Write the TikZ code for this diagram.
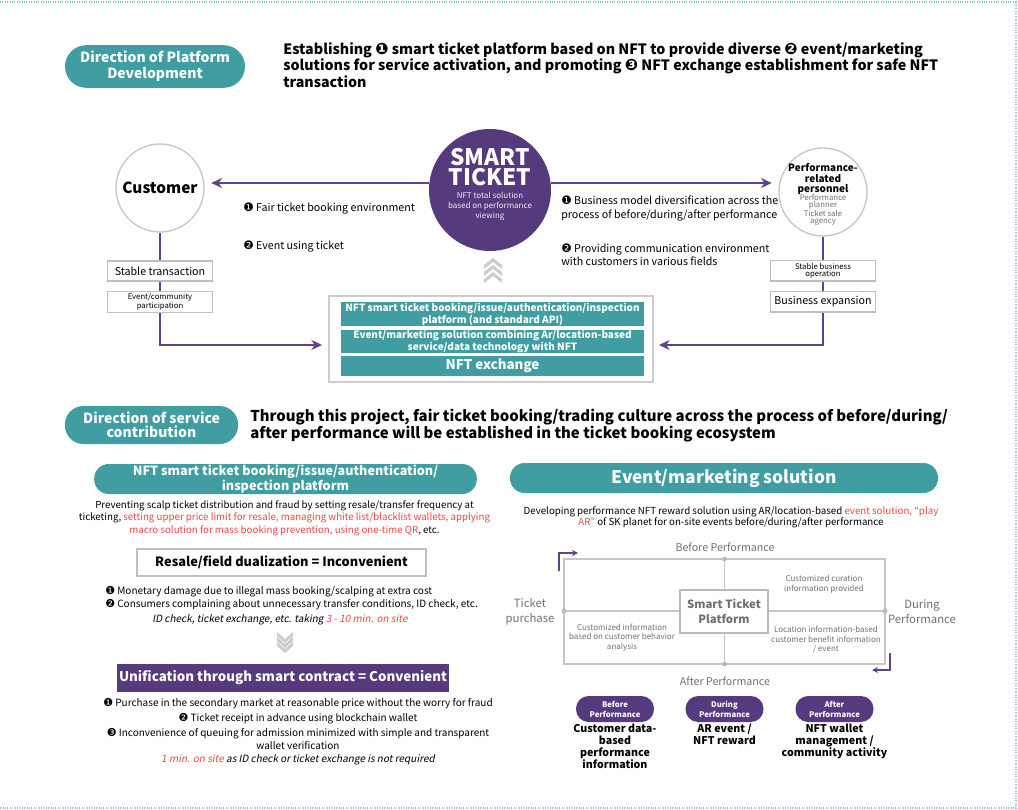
\documentclass[tikz,border=0pt]{standalone}
\usepackage{fontspec}
\setmainfont{Noto Sans CJK KR}[AutoFakeSlant=0.2]
\newfontfamily\dingf{DejaVu Sans}
\usepackage{tikz}
\usetikzlibrary{arrows.meta,positioning}
\definecolor{tealc}{HTML}{409EA3}
\definecolor{purpc}{HTML}{553A7E}
\definecolor{arrc}{HTML}{5E4390}
\definecolor{redc}{HTML}{F04545}
\definecolor{grayc}{HTML}{707070}
\newcommand{\fsz}[2]{\fontsize{#1}{#2}\selectfont}
\newcommand{\cn}[1]{{\dingf\scalebox{1.1}{#1}}}

\begin{document}
\begin{tikzpicture}[x=0.75pt,y=-0.75pt,
		every node/.style={inner sep=0pt},
		tealpill/.style={fill=tealc,text=white,font=\bfseries,align=center},
		purppill/.style={fill=purpc,text=white,align=center},
		gbox/.style={draw=gray!50,line width=1pt,fill=white,align=center},
		gcirc/.style={circle,draw=gray!45,line width=1pt,fill=white},
		pline/.style={draw=arrc,line width=1.1pt},
		arr/.style={pline,-{Stealth[length=8pt,width=7.5pt]}},
		sarr/.style={draw=arrc,line width=0.8pt,-{Stealth[length=4.5pt,width=4.5pt]}},
		gtxt/.style={text=grayc,align=center}]
	\useasboundingbox (0,0) rectangle (1018,810);
	\draw[tealc!60,densely dotted,line width=0.8pt] (0,2) -- (1016,2) -- (1016,808) -- (0,808);

	\node[tealpill,minimum width=135pt,minimum height=32pt,rounded corners=16pt,font=\bfseries\fsz{10.5}{12}] (hp1) at (155,66.5) {Direction of Platform\\Development};
	\node[anchor=west,align=left,font=\bfseries\fsz{10.7}{11.25}] (ht1) at (283,65) {Establishing \cn{❶} smart ticket platform based on NFT to provide diverse \cn{❷} event/marketing\\solutions for service activation, and promoting \cn{❸} NFT exchange establishment for safe NFT\\transaction};

	\coordinate (ay) at (0,183);
	\node[circle,fill=purpc,minimum size=91.5pt] (st) at (490,190) {};
	\node[text=white,align=center,font=\bfseries\fsz{17}{15.5}] (stt) at (490,167) {SMART\\TICKET};
	\node[text=white!90!purpc,align=center,font=\fsz{6}{7.5}] (sts) at (490,206) {NFT total solution\\based on performance\\viewing};

	\node[gcirc,minimum size=66pt,font=\bfseries\fsz{11.5}{12}] (cu) at (160,188) {Customer};
	\node[gcirc,minimum size=66pt] (pp) at (823,192) {};
	\node[align=center,font=\bfseries\fsz{7.5}{7.6}] (ppt) at (823,179) {Performance-\\related\\personnel};
	\node[gtxt,font=\fsz{5.8}{5.3}] (pps) at (823,210) {Performance\\planner\\Ticket sale\\agency};

	\draw[arr,shorten >=5pt] (st.west |- ay) -- (cu.east |- ay);
	\draw[arr,shorten >=5pt] (st.east |- ay) -- (pp.west |- ay);

	\node[anchor=west,font=\fsz{8}{9}] (l1) at (243,209) {\cn{❶} Fair ticket booking environment};
	\node[anchor=west,font=\fsz{8}{9}] (l2) at (243,247) {\cn{❷} Event using ticket};
	\node[anchor=west,align=left,font=\fsz{8}{9.75}] (r1) at (561,208.5) {\cn{❶} Business model diversification across the\\process of before/during/after performance};
	\node[anchor=west,align=left,font=\fsz{8}{9.75}] (r2) at (561,254.5) {\cn{❷} Providing communication environment\\with customers in various fields};

	\node[gbox,minimum width=79pt,minimum height=15pt,font=\fsz{8}{9}] (cu1) at (160,271) {Stable transaction};
	\node[gbox,minimum width=79pt,minimum height=15.5pt,font=\fsz{5.8}{5.5}] (cu2) at (160,302) {Event/community\\participation};
	\node[gbox,minimum width=79pt,minimum height=15.5pt,font=\fsz{5.8}{5.5}] (pp1) at (823,270.5) {Stable business\\operation};
	\node[gbox,minimum width=79pt,minimum height=15.5pt,font=\fsz{8}{9}] (pp2) at (823,301.5) {Business expansion};

	\node[draw=gray!40,line width=1pt,minimum width=243pt,minimum height=64.5pt] (pf) at (491,339) {};
	\node[tealpill,minimum width=227pt,minimum height=18pt,font=\bfseries\fsz{7.5}{7.5}] (pf1) at (492.5,314) {NFT smart ticket booking/issue/authentication/inspection\\platform (and standard API)};
	\node[tealpill,minimum width=227pt,minimum height=17.25pt,font=\bfseries\fsz{7.5}{7.5}] (pf2) at (492.5,341.5) {Event/marketing solution combining Ar/location-based\\service/data technology with NFT};
	\node[tealpill,minimum width=227pt,minimum height=15pt,font=\bfseries\fsz{10}{10}] (pf3) at (492.5,366) {NFT exchange};

	\coordinate (pl) at (322,345);
	\coordinate (pr) at (659,345);
	\draw[pline] (cu) -- (cu1);
	\draw[pline] (cu1) -- (cu2);
	\draw[arr] (cu2.south) |- (pl);
	\draw[pline] (pp) -- (pp1);
	\draw[pline] (pp1) -- (pp2);
	\draw[arr] (pp2.south) |- (pr);

	\foreach \y in {258,265,272}
		\fill[gray!40] (484,\y+7) -- (493,\y) -- (502,\y+7) -- (502,\y+11) -- (493,\y+4) -- (484,\y+11) -- cycle;

	\node[tealpill,minimum width=130pt,minimum height=28.5pt,rounded corners=14pt,font=\bfseries\fsz{10.5}{10.5}] (hp2) at (151.5,425) {Direction of service\\contribution};
	\node[anchor=west,align=left,font=\bfseries\fsz{11.2}{10.5}] (ht2) at (250,425.5) {Through this project, fair ticket booking/trading culture across the process of before/during/\\after performance will be established in the ticket booking ecosystem};

	\node[tealpill,minimum width=287pt,minimum height=22.5pt,rounded corners=11pt,font=\bfseries\fsz{9.5}{9}] (np) at (285.5,479) {NFT smart ticket booking/issue/authentication/\\inspection platform};
	\node[align=center,font=\fsz{7.3}{9.4}] (npt) at (284.5,518) {Preventing scalp ticket distribution and fraud by setting resale/transfer frequency at\\ticketing, {\color{redc}setting upper price limit for resale, managing white list/blacklist wallets, applying}\\{\color{redc}macro solution for mass booking prevention, using one-time QR}, etc.};

	\node[gbox,minimum width=216.75pt,minimum height=20.25pt,line width=1.2pt,font=\bfseries\fsz{9.6}{10}] (rs) at (281.5,562.5) {Resale/field dualization = Inconvenient};
	\node[anchor=west,align=left,font=\fsz{7.5}{9.75}] (rsb) at (105,598.5) {\cn{❶} Monetary damage due to illegal mass booking/scalping at extra cost\\\cn{❷} Consumers complaining about unnecessary transfer conditions, ID check, etc.};
	\node[font=\itshape\fsz{7.5}{9}] (rsi) at (280,620) {ID check, ticket exchange, etc. taking {\color{redc}3 - 10 min. on site}};

	\foreach \y in {643,648,653}
		\fill[gray!40] (277,\y-7) -- (285,\y) -- (293,\y-7) -- (293,\y-11) -- (285,\y-4) -- (277,\y-11) -- cycle;

	\node[purppill,minimum width=249pt,minimum height=21pt,font=\bfseries\fsz{10}{10}] (uc) at (283,678) {Unification through smart contract = Convenient};
	\node[align=center,font=\fsz{7.5}{9.5}] (ucb) at (298,731.5) {\cn{❶} Purchase in the secondary market at reasonable price without the worry for fraud\\[1.8pt]\cn{❷} Ticket receipt in advance using blockchain wallet\\[1.8pt]\cn{❸} Inconvenience of queuing for admission minimized with simple and transparent\\wallet verification\\{\itshape\color{redc}1 min. on site} {\itshape as ID check or ticket exchange is not required}};

	\node[tealpill,minimum width=321pt,minimum height=22.5pt,rounded corners=11pt,font=\bfseries\fsz{13}{13}] (ep) at (724,478) {Event/marketing solution};
	\node[align=center,font=\fsz{7.3}{8.5}] (ept) at (731,517.5) {Developing performance NFT reward solution using AR/location-based {\color{redc}event solution, “play}\\{\color{redc}AR”} of SK planet for on-site events before/during/after performance};

	\draw[gray!45,line width=0.8pt] (564,559) rectangle (885,664);
	\draw[gray!45,line width=0.8pt] (724.5,559) -- (724.5,664) (564,611) -- (885,611);
	\foreach \x/\y in {724.5/559,564/611,885/611,724.5/664}
		\fill[gray!55] (\x,\y) circle (1.8pt);
	\node[gbox,draw=gray!55,text=grayc,minimum width=66pt,minimum height=32.25pt,font=\bfseries\fsz{8.5}{11.25}] (sp) at (724,611.5) {Smart Ticket\\Platform};

	\node[gtxt,font=\fsz{8}{9}] (bp) at (725,547) {Before Performance};
	\node[gtxt,font=\fsz{8}{9}] (ap) at (725,681) {After Performance};
	\node[gtxt,font=\fsz{8.5}{11.25}] (tp) at (530,611.5) {Ticket\\purchase};
	\node[gtxt,font=\fsz{8.5}{11.25}] (dp) at (922,611.5) {During\\Performance};
	\node[gtxt,font=\fsz{6}{7.5}] (q1) at (824,584) {Customized curation\\information provided};
	\node[gtxt,font=\fsz{6}{7}] (q2) at (622,637.5) {Customized information\\based on customer behavior\\analysis};
	\node[gtxt,font=\fsz{6}{7}] (q3) at (826,639.5) {Location information-based\\customer benefit information\\/ event};

	\coordinate (a0) at (559,571);
	\coordinate (a1) at (578,553);
	\coordinate (a2) at (890,653);
	\coordinate (a3) at (872,670);
	\draw[sarr] (a0) |- (a1);
	\draw[sarr] (a2) |- (a3);

	\foreach \n/\x/\t in {s1/615/Before,s2/724.5/During,s3/834.5/After}
		\node[purppill,minimum width=58.5pt,minimum height=19.5pt,rounded corners=9.5pt,font=\bfseries\fsz{5.8}{7.5}] (\n) at (\x,709) {\t\\Performance};
	\node[anchor=north,align=center,font=\bfseries\fsz{8}{9}] (d1) at (615,724) {Customer data-\\based\\performance\\information};
	\node[anchor=north,align=center,font=\bfseries\fsz{8}{9}] (d2) at (724.5,724) {AR event /\\NFT reward};
	\node[anchor=north,align=center,font=\bfseries\fsz{8}{9}] (d3) at (834.5,724) {NFT wallet\\management /\\community activity};
\end{tikzpicture}
\end{document}
